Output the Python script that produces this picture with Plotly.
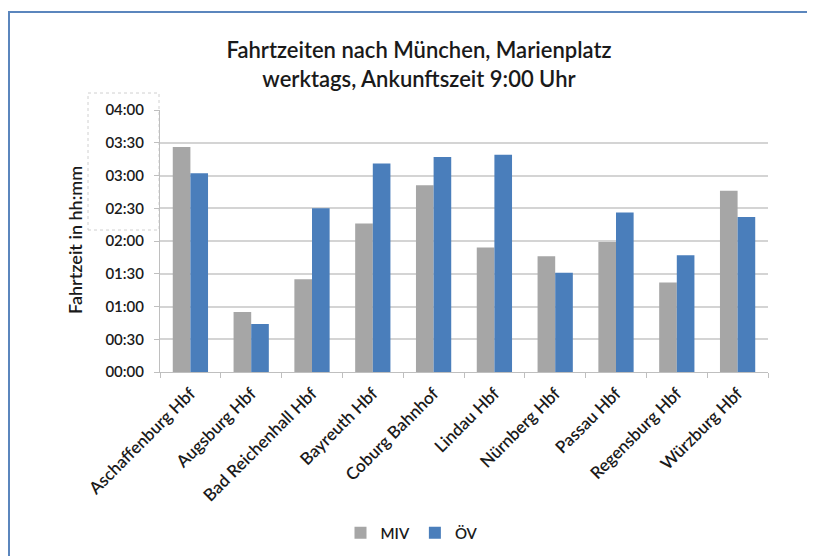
import plotly.graph_objects as go

categories = ["Aschaffenburg Hbf", "Augsburg Hbf", "Bad Reichenhall Hbf", "Bayreuth Hbf",
              "Coburg Bahnhof", "Lindau Hbf", "Nürnberg Hbf", "Passau Hbf",
              "Regensburg Hbf", "Würzburg Hbf"]
# travel times in minutes
miv_minutes = [206, 55, 85, 136, 171, 114, 106, 119, 82, 166]
oev_minutes = [182, 44, 150, 191, 197, 199, 91, 146, 107, 142]
y_tickvals = [0, 30, 60, 90, 120, 150, 180, 210, 240]
y_ticktext = ["00:00", "00:30", "01:00", "01:30", "02:00", "02:30", "03:00", "03:30", "04:00"]

FONT = "Lato"
W, H = 815, 556
OFF = 8  # page body margin offset
L, R, T, B = 160 - OFF, 768 - OFF, 110 - OFF, 372 - OFF  # plot area in figure px

def px(x):
    return (x - OFF - L) / (R - L)

def py(y):
    return (B - (y - OFF)) / (B - T)

TXT = "#1a1a1a"
WEIGHT = 600

fig = go.Figure()
fig.add_trace(go.Bar(name="MIV", x=categories, y=miv_minutes, marker_color="#a6a6a6",
                     marker_line_width=0))
fig.add_trace(go.Bar(name="ÖV", x=categories, y=oev_minutes, marker_color="#4a7ebb",
                     marker_line_width=0))

fig.update_layout(
    width=W, height=H,
    margin=dict(l=L, r=W - R, t=T, b=H - B, pad=0),
    paper_bgcolor="white", plot_bgcolor="white",
    barmode="group", bargap=0.42, bargroupgap=0.0,
    font=dict(family=FONT, size=16, color=TXT),
    title=dict(text="Fahrtzeiten nach München, Marienplatz<br>werktags, Ankunftszeit 9:00 Uhr",
               x=(419 - OFF) / W, xanchor="center", xref="container",
               y=1 - (58 - OFF) / H, yanchor="middle", yref="container",
               font=dict(family=FONT, size=22, color=TXT, weight=WEIGHT)),
    legend=dict(orientation="h", x=px(412), xanchor="center", y=py(533), yanchor="middle",
                font=dict(family=FONT, size=15, color=TXT, weight=WEIGHT), itemwidth=30,
                bgcolor="rgba(0,0,0,0)"),
    showlegend=True,
)

fig.update_xaxes(
    type="category", tickangle=-45, showgrid=False,
    showline=True, linecolor="#bfbfbf", linewidth=1,
    ticks="outside", tickson="boundaries", ticklen=5, tickcolor="#bfbfbf",
    tickfont=dict(family=FONT, size=17, color=TXT, weight=WEIGHT),
    ticklabelstandoff=4,
    range=[-0.5, len(categories) - 0.5],
)
fig.update_yaxes(
    range=[0, 240], tickvals=y_tickvals, ticktext=y_ticktext,
    showgrid=True, gridcolor="#d4d4d4", gridwidth=1.5,
    showline=True, linecolor="#bfbfbf", linewidth=1,
    ticks="outside", ticklen=5, tickcolor="#bfbfbf",
    tickfont=dict(family=FONT, size=15, color=TXT, weight=WEIGHT),
    ticklabelstandoff=7,
    zeroline=False,
)

# white box with dotted border behind the upper tick labels
fig.add_shape(type="rect", xref="paper", yref="paper",
              x0=px(88), x1=px(159), y0=py(230), y1=py(93),
              line=dict(color="#d0d0d0", width=1, dash="dot"),
              fillcolor="white", layer="below")

# outer chart border (blue)
fig.add_shape(type="rect", xref="paper", yref="paper",
              x0=px(9), x1=px(860), y0=py(600), y1=py(12),
              line=dict(color="#5b86bd", width=2), fillcolor="rgba(0,0,0,0)",
              layer="above")

fig.add_annotation(text="Fahrtzeit in hh:mm", xref="paper", yref="paper",
                   x=px(75), y=py(240), showarrow=False, textangle=-90,
                   font=dict(family=FONT, size=18, color=TXT, weight=WEIGHT),
                   xanchor="center", yanchor="middle")

fig.write_html("out.html")
